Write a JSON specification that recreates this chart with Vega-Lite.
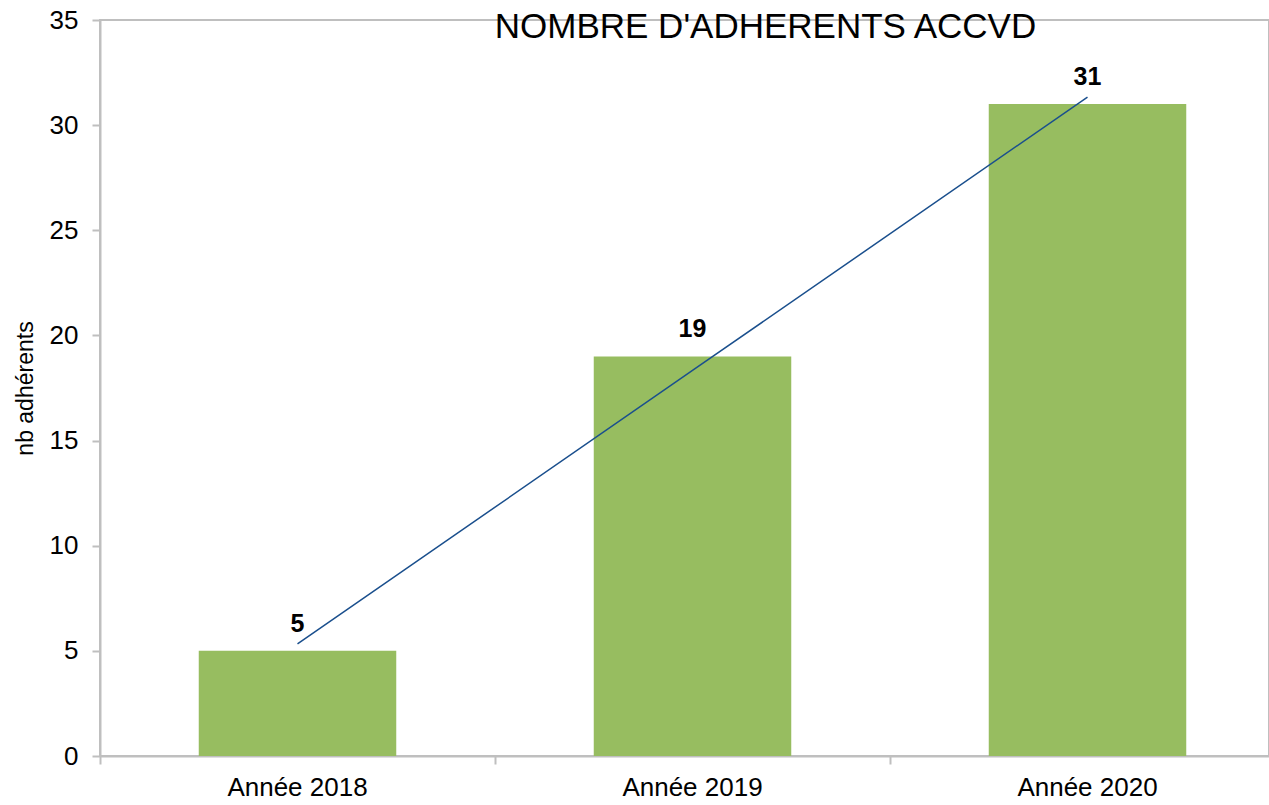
{
  "$schema": "https://vega.github.io/schema/vega-lite/v6.json",
  "width": 1169,
  "height": 736,
  "autosize": {"type": "none"},
  "padding": {"left": 100, "top": 20, "right": 0, "bottom": 49},
  "background": "white",
  "config": {
    "font": "Liberation Sans",
    "view": {"stroke": "#BFBFBF", "strokeWidth": 2}
  },
  "title": {
    "text": "NOMBRE D'ADHERENTS ACCVD",
    "font": "Liberation Sans",
    "fontSize": 35,
    "fontWeight": "normal",
    "color": "#000000",
    "anchor": "middle",
    "frame": "group",
    "offset": -38,
    "dx": 81
  },
  "data": {
    "values": [
      {"annee": "Année 2018", "nb": 5, "tendance": 5.333},
      {"annee": "Année 2019", "nb": 19, "tendance": 18.333},
      {"annee": "Année 2020", "nb": 31, "tendance": 31.333}
    ]
  },
  "encoding": {
    "x": {
      "field": "annee",
      "type": "nominal",
      "sort": null,
      "scale": {"range": [0, 1185], "paddingInner": 0, "paddingOuter": 0},
      "axis": {
        "title": null,
        "bandPosition": 0,
        "labelOffset": 0,
        "labelAngle": 0,
        "labelFontSize": 26,
        "labelColor": "#000000",
        "labelPadding": 10,
        "domainColor": "#BFBFBF",
        "domainWidth": 2,
        "tickColor": "#BFBFBF",
        "tickWidth": 2,
        "tickSize": 8,
        "grid": false
      }
    }
  },
  "layer": [
    {
      "mark": {"type": "bar", "color": "#97BD60", "width": {"band": 0.5}},
      "encoding": {
        "y": {
          "field": "nb",
          "type": "quantitative",
          "scale": {"domain": [0, 35], "nice": false},
          "axis": {
            "title": "nb adhérents",
            "titleFontSize": 23,
            "titleFontWeight": "normal",
            "titleColor": "#000000",
            "titlePadding": 12,
            "values": [0, 5, 10, 15, 20, 25, 30, 35],
            "labelFontSize": 26,
            "labelColor": "#000000",
            "labelPadding": 14,
            "domainColor": "#BFBFBF",
            "domainWidth": 2,
            "tickColor": "#BFBFBF",
            "tickWidth": 2,
            "tickSize": 8,
            "grid": false
          }
        }
      }
    },
    {
      "mark": {"type": "line", "color": "#1A4F8D", "strokeWidth": 1.5},
      "encoding": {
        "y": {"field": "tendance", "type": "quantitative"}
      }
    },
    {
      "mark": {"type": "text", "fontSize": 25, "fontWeight": "bold", "color": "#000000", "baseline": "bottom", "dy": -14},
      "encoding": {
        "y": {"field": "nb", "type": "quantitative"},
        "text": {"field": "nb", "type": "quantitative"}
      }
    }
  ]
}
